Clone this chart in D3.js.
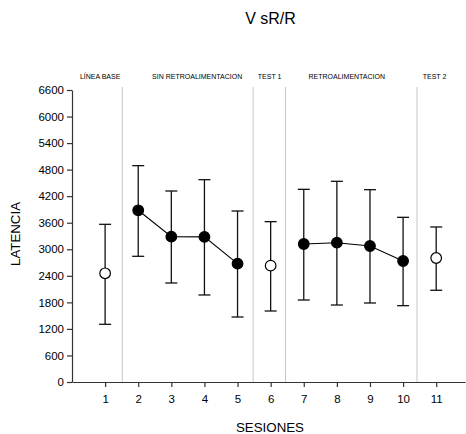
<!DOCTYPE html>
<html><head><meta charset="utf-8">
<script src="https://cdn.jsdelivr.net/npm/d3@7"></script>
<style>body{margin:0;background:#fff}svg{display:block;font-family:"Liberation Sans",Arial,sans-serif}</style>
</head><body><svg id="c" width="466" height="434"></svg>
<script>
const sessions = [1,2,3,4,5,6,7,8,9,10,11];
const means = [2457,3881,3285,3280,2675,2630,3119,3149,3074,2735,2803];
const upper = [3564,4890,4317,4573,3865,3624,4355,4536,4347,3722,3504];
const lower = [1304,2841,2238,1967,1469,1605,1853,1740,1786,1725,2073];
const filled = [false,true,true,true,true,false,true,true,true,true,false];
const lineGroups = [[2,3,4,5],[7,8,9,10]];
const yTicks = [0,600,1200,1800,2400,3000,3600,4200,4800,5400,6000,6600];
const phaseLabels = ["LÍNEA BASE","SIN RETROALIMENTACION","TEST 1","RETROALIMENTACION","TEST 2"];
const phaseCenters = [0.85,3.78,5.97,8.3,10.95];
const separators = [1.52,5.47,6.45,10.42];

const svg = d3.select("#c");
const x = d3.scaleLinear().domain([0,11.87]).range([72,465]);
const y = d3.scaleLinear().domain([0,6600]).range([382,90]);

// separators
svg.selectAll(".sep").data(separators).join("line")
  .attr("x1",d=>x(d)).attr("x2",d=>x(d)).attr("y1",87).attr("y2",382)
  .attr("stroke","#c8c8c8").attr("stroke-width",1);

// axes
const ya = svg.append("g").attr("transform","translate(72,0)")
  .call(d3.axisLeft(y).tickValues(yTicks).tickFormat(d3.format("d")).tickSize(5).tickSizeOuter(0).tickPadding(3));
const xa = svg.append("g").attr("transform","translate(0,382)")
  .call(d3.axisBottom(x).tickValues(sessions).tickFormat(d3.format("d")).tickSize(5).tickSizeOuter(0).tickPadding(8));
[ya,xa].forEach(a=>{
  a.selectAll("path,line").attr("stroke","#333").attr("stroke-width",1.2);
  a.selectAll("text").attr("font-size",11.5).attr("fill","#000").attr("font-family","Liberation Sans, Arial, sans-serif");
});

// phase labels
svg.selectAll(".ph").data(phaseLabels).join("text")
  .attr("x",(d,i)=>x(phaseCenters[i])).attr("y",79).attr("text-anchor","middle")
  .attr("font-size",7).text(d=>d);

// title and axis labels
svg.append("text").attr("x",270.5).attr("y",24).attr("text-anchor","middle").attr("font-size",16).text("V sR/R");
svg.append("text").attr("transform","translate(20,234) rotate(-90)").attr("text-anchor","middle").attr("font-size",13.3).text("LATENCIA");
svg.append("text").attr("x",270).attr("y",432).attr("text-anchor","middle").attr("font-size",13.3).text("SESIONES");

// connecting lines
const line = d3.line().x(s=>x(s)).y(s=>y(means[s-1]));
svg.selectAll(".ln").data(lineGroups).join("path")
  .attr("d",line).attr("fill","none").attr("stroke","#000").attr("stroke-width",1.1);

// error bars
const eb = svg.append("g").attr("stroke","#111").attr("stroke-width",1.3);
sessions.forEach((s,i)=>{
  eb.append("line").attr("x1",x(s)).attr("x2",x(s)).attr("y1",y(upper[i])).attr("y2",y(lower[i]));
  eb.append("line").attr("x1",x(s)-6).attr("x2",x(s)+6).attr("y1",y(upper[i])).attr("y2",y(upper[i]));
  eb.append("line").attr("x1",x(s)-6).attr("x2",x(s)+6).attr("y1",y(lower[i])).attr("y2",y(lower[i]));
});

// markers
svg.selectAll(".pt").data(sessions).join("circle")
  .attr("cx",s=>x(s)).attr("cy",(s,i)=>y(means[i])).attr("r",5.3)
  .attr("fill",(s,i)=>filled[i]?"#000":"#fff").attr("stroke","#000").attr("stroke-width",1.2);
</script></body></html>
